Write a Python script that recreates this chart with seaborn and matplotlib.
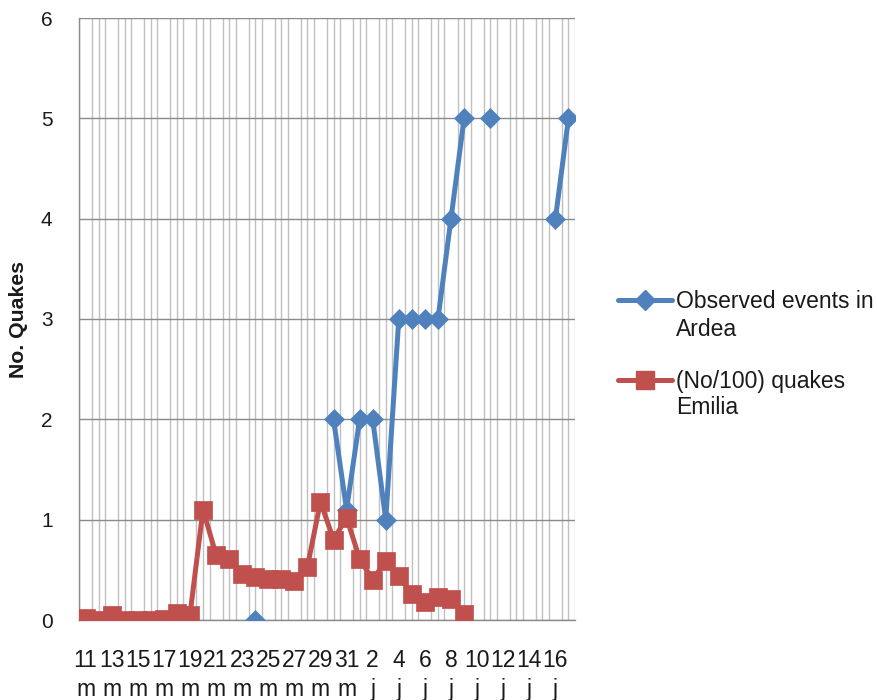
import numpy as np
import pandas as pd
import matplotlib
matplotlib.use("Agg")
import matplotlib.pyplot as plt
import seaborn as sns
from matplotlib.ticker import MultipleLocator, FixedLocator
from matplotlib.lines import Line2D

# ---- data ----
days = list(range(11, 32)) + list(range(1, 18))
months = ["m"] * 21 + ["j"] * 17
nan = np.nan
ardea = [nan] * 13 + [0] + [nan] * 5 + [2, 1.1, 2, 2, 1, 3, 3, 3, 3, 4, 5,
                                        nan, 5, nan, nan, nan, nan, 4, 5]
emilia = [0.02, 0.0, 0.05, 0.0, 0.0, 0.0, 0.01, 0.07, 0.05, 1.10,
          0.65, 0.61, 0.46, 0.43, 0.41, 0.41, 0.39, 0.53, 1.18, 0.80,
          1.02, 0.61, 0.40, 0.59, 0.44, 0.26, 0.18, 0.23, 0.21, 0.06] + [nan] * 8
series_names = ["Observed events in\nArdea", "(No/100) quakes\nEmilia"]
y_ticks = [0, 1, 2, 3, 4, 5, 6]

tick_labels = [f"{d}\n{m}" for d, m in zip(days, months)]
idx = np.arange(len(days))

df = pd.DataFrame({"idx": idx, "ardea": ardea, "emilia": emilia})

sns.set_style("white")
plt.rcParams["font.family"] = ["Liberation Sans", "DejaVu Sans"]

fig = plt.figure(figsize=(8.77, 7.0), dpi=100)
ax = fig.add_axes([79 / 877, 1 - 620 / 700, 496 / 877, 602 / 700])

BLUE = "#4F81BD"
RED = "#C0504D"
TXT = "#1a1a1a"
LW = 3.6


def runs(vals):
    out, cur = [], []
    for i, v in enumerate(vals):
        if np.isnan(v):
            if cur:
                out.append(cur)
            cur = []
        else:
            cur.append(i)
    if cur:
        out.append(cur)
    return out


def draw(col, color, marker, ms):
    for r in runs(df[col].values):
        sub = df.iloc[r]
        sns.lineplot(data=sub, x="idx", y=col, ax=ax, color=color, lw=LW,
                     marker=marker, markersize=ms, markeredgecolor=color,
                     markerfacecolor=color, markeredgewidth=0.5,
                     estimator=None, sort=False, legend=False, zorder=3)


draw("ardea", BLUE, "D", 10.5)
draw("emilia", RED, "s", 12.5)

ax.set_xlim(-0.5, len(days) - 0.5)
ax.set_ylim(0, 6)
ax.yaxis.set_major_locator(FixedLocator(y_ticks))
ax.xaxis.set_major_locator(FixedLocator(idx[::2]))
ax.set_xticklabels(tick_labels[::2])
ax.xaxis.set_minor_locator(MultipleLocator(0.5))
ax.grid(False)
ax.grid(which="minor", axis="x", color="#c0c0c0", lw=1.0, zorder=0)
ax.grid(which="major", axis="y", color="#8a8a8a", lw=1.0, zorder=1)
ax.set_axisbelow(True)
for s in ["top", "right"]:
    ax.spines[s].set_visible(False)
for s in ["left", "bottom"]:
    ax.spines[s].set_color("#8a8a8a")
    ax.spines[s].set_linewidth(1.0)

ax.tick_params(axis="x", which="both", length=0, pad=21, labelsize=16.5,
               labelcolor=TXT)
ax.tick_params(axis="y", length=0, pad=19, labelsize=15, labelcolor=TXT)
for t in ax.get_xticklabels():
    t.set_linespacing(1.3)

ax.set_xlabel("")
ax.set_ylabel("No. Quakes", fontsize=15.3, fontweight="bold", color=TXT)
ax.yaxis.set_label_coords(-0.103, 0.5)

h1 = Line2D([], [], color=BLUE, lw=LW, marker="D", ms=10.5, mec=BLUE)
h2 = Line2D([], [], color=RED, lw=LW, marker="s", ms=12.5, mec=RED)
first = [n.split("\n")[0] for n in series_names]
second = [n.split("\n")[1] for n in series_names]
FS = 16.5
leg = fig.legend([h1, h2], first, loc="upper left",
                 bbox_to_anchor=(618 / 877, 1 - 290 / 700),
                 frameon=False, fontsize=FS, handlelength=2.35,
                 handletextpad=0.17, labelspacing=2.5, borderpad=0,
                 borderaxespad=0)
for t in leg.get_texts():
    t.set_color(TXT)
fig.text(676 / 877, 1 - 330 / 700, second[0], fontsize=FS, va="center",
         ha="left", color=TXT)
fig.text(676 / 877, 1 - 408 / 700, second[1], fontsize=FS, va="center",
         ha="left", color=TXT)

fig.savefig("out.png", dpi=100)
